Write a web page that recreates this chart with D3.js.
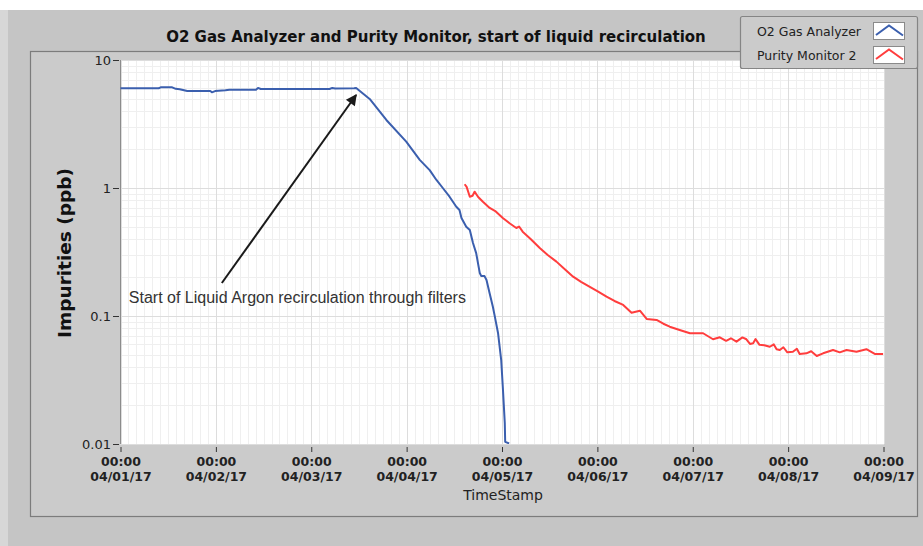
<!DOCTYPE html>
<html>
<head>
<meta charset="utf-8">
<script src="https://cdn.jsdelivr.net/npm/d3@7"></script>
<style>
  body { margin: 0; background: #c5c5c5; }
  svg { display: block; }
</style>
</head>
<body>
<svg id="chart" width="923" height="546"></svg>
<script>
// ---- chart data ----
const chartTitle = "O2 Gas Analyzer and Purity Monitor, start of liquid recirculation";
const yAxisTitle = "Impurities (ppb)";
const xAxisTitle = "TimeStamp";
const seriesNames = ["O2 Gas Analyzer", "Purity Monitor 2"];
const startTime = new Date(2017, 3, 1, 0, 0);
const endTime = new Date(2017, 3, 9, 0, 0);
const yTickValues = [0.01, 0.1, 1, 10];
const yTickLabels = ["0.01", "0.1", "1", "10"];
const xTickTimeFormat = "%H:%M";
const xTickDateFormat = "%m/%d/%y";

// O2 gas analyzer: hours since 04/01/17 00:00, impurity in ppb
const o2Hours = [0, 9.6, 10.1, 13.0, 13.9, 14.9, 16.8, 22.6, 23.0, 23.8, 26.4, 27.4, 34.1, 34.6, 35.3,
  52.6, 53.3, 54.0, 58.8, 59.3, 62.7, 66.9, 71.9, 75.3, 77.8, 79.5, 81.1, 82.8, 84.5, 85.3, 85.8,
  87.0, 87.9, 88.7, 89.5, 90.4, 90.8, 91.6, 92.1, 92.9, 93.7, 94.2, 95.0, 95.8, 96.2, 96.7, 96.8, 97.8];
const o2Ppb = [6.01, 6.01, 6.12, 6.12, 5.95, 5.90, 5.72, 5.72, 5.59, 5.72, 5.80, 5.86, 5.86, 6.05, 5.93,
  5.93, 6.05, 5.98, 6.01, 6.05, 4.96, 3.40, 2.30, 1.66, 1.38, 1.155, 1.00, 0.855, 0.714, 0.673, 0.583,
  0.499, 0.470, 0.372, 0.310, 0.217, 0.205, 0.205, 0.191, 0.150, 0.118, 0.0989, 0.0737, 0.0453, 0.0280, 0.0146, 0.0104, 0.0101];

// Purity monitor 2: hours since 04/01/17 00:00, impurity in ppb
const pm2Hours = [86.6, 87.1, 87.9, 88.6, 89.1, 90.0, 91.2, 92.9, 94.3, 96.2, 97.9, 99.6, 100.3, 101.2,
  103.2, 105.5, 107.5, 109.7, 111.8, 113.9, 115.9, 118.1, 120.2, 122.3, 124.3, 126.5, 128.6, 130.7,
  132.4, 134.9, 136.6, 138.2, 140.7, 143.3, 146.6, 149.1, 150.8, 152.4, 153.6, 155.0, 156.5, 157.5,
  158.4, 159.2, 159.8, 160.8, 162.0, 163.4, 164.4, 165.1, 165.9, 166.8, 167.8, 169.2, 170.2, 170.9,
  172.6, 173.8, 175.2, 176.8, 179.3, 181.0, 182.7, 185.2, 187.7, 189.8, 191.9];
const pm2Ppb = [1.07, 1.02, 0.855, 0.87, 0.936, 0.85, 0.78, 0.698, 0.66, 0.583, 0.53, 0.487, 0.50, 0.456,
  0.40, 0.340, 0.30, 0.266, 0.232, 0.203, 0.185, 0.169, 0.155, 0.1416, 0.131, 0.122, 0.106, 0.110,
  0.0948, 0.0931, 0.087, 0.0825, 0.0778, 0.0733, 0.0733, 0.0658, 0.0682, 0.0640, 0.0670, 0.0630, 0.0680, 0.0658,
  0.0605, 0.0612, 0.0660, 0.0595, 0.0590, 0.0575, 0.0600, 0.0550, 0.0542, 0.0570, 0.0520, 0.0526, 0.0555, 0.0505,
  0.0511, 0.0530, 0.0487, 0.0511, 0.0542, 0.0520, 0.0542, 0.0526, 0.0550, 0.0505, 0.0505];

// Annotation: text anchor and arrow (hours, ppb)
const noteText = "Start of Liquid Argon recirculation through filters";
const noteAt = [2.1, 0.1265];
const arrowFrom = [25.5, 0.181];
const arrowTo = [59.3, 5.33];

const seriesColors = ["#3b5fae", "#ff3d3d"];

// ---- layout ----
const svg = d3.select("#chart");
const W = 923, H = 546;
const plot = { left: 120, top: 60, right: 884, bottom: 444 };

const toTime = h => new Date(startTime.getTime() + h * 3600e3);

const x = d3.scaleTime().domain([startTime, endTime]).range([plot.left + 0.5, plot.right - 0.5]);
const y = d3.scaleLog().domain([0.01, 10]).range([plot.bottom, plot.top]);

// window backdrop
svg.append("rect").attr("width", W).attr("height", H).attr("fill", "#c5c5c5");
svg.append("rect").attr("x", 0).attr("y", 10).attr("width", 8).attr("height", H - 10).attr("fill", "#d7d7d7");
svg.append("rect").attr("width", W).attr("height", 10).attr("fill", "#ffffff");

// graph panel
svg.append("rect")
  .attr("x", 30.5).attr("y", 51.5).attr("width", 887).attr("height", 465)
  .attr("fill", "#cbcbcb").attr("stroke", "#7c7c7c").attr("stroke-width", 1.2);

// title
svg.append("text")
  .attr("x", 436).attr("y", 42)
  .attr("text-anchor", "middle")
  .attr("font-family", "DejaVu Sans, sans-serif")
  .attr("font-weight", "bold")
  .attr("font-size", 15)
  .attr("fill", "#111")
  .text(chartTitle);

// plot background
svg.append("rect")
  .attr("x", plot.left).attr("y", plot.top)
  .attr("width", plot.right - plot.left).attr("height", plot.bottom - plot.top)
  .attr("fill", "#ffffff");

const grid = svg.append("g");

// minor vertical grid every 2 hours
grid.selectAll("line.vminor")
  .data(x.ticks(d3.timeHour.every(2)))
  .join("line")
  .attr("x1", d => Math.round(x(d)) + 0.5).attr("x2", d => Math.round(x(d)) + 0.5)
  .attr("y1", plot.top).attr("y2", plot.bottom)
  .attr("stroke", "#efefef").attr("stroke-width", 1);

// minor horizontal grid (log 2..9)
const logTicks = y.ticks();
const isMajor = d => Math.abs(Math.log10(d) - Math.round(Math.log10(d))) < 1e-9;
grid.selectAll("line.hminor")
  .data(logTicks.filter(d => !isMajor(d)))
  .join("line")
  .attr("x1", plot.left).attr("x2", plot.right)
  .attr("y1", d => Math.round(y(d)) + 0.5).attr("y2", d => Math.round(y(d)) + 0.5)
  .attr("stroke", "#efefef").attr("stroke-width", 1);

// major grid
grid.selectAll("line.vmajor")
  .data(x.ticks(d3.timeDay.every(1)))
  .join("line")
  .attr("x1", d => Math.round(x(d)) + 0.5).attr("x2", d => Math.round(x(d)) + 0.5)
  .attr("y1", plot.top).attr("y2", plot.bottom)
  .attr("stroke", "#dddddd").attr("stroke-width", 1);
grid.selectAll("line.hmajor")
  .data(yTickValues)
  .join("line")
  .attr("x1", plot.left).attr("x2", plot.right)
  .attr("y1", d => Math.round(y(d)) + 0.5).attr("y2", d => Math.round(y(d)) + 0.5)
  .attr("stroke", "#dddddd").attr("stroke-width", 1);

// plot frame (left edge)
svg.append("line")
  .attr("x1", plot.left + 0.5).attr("x2", plot.left + 0.5)
  .attr("y1", plot.top).attr("y2", plot.bottom)
  .attr("stroke", "#8c8c8c");

// series
const line = d3.line().x(d => x(d[0])).y(d => y(d[1]));
const o2Data = o2Hours.map((h, i) => [toTime(h), o2Ppb[i]]);
const pm2Data = pm2Hours.map((h, i) => [toTime(h), pm2Ppb[i]]);

svg.append("clipPath").attr("id", "plotClip")
  .append("rect").attr("x", plot.left).attr("y", plot.top - 2)
  .attr("width", plot.right - plot.left).attr("height", plot.bottom - plot.top + 2);

const seriesG = svg.append("g").attr("clip-path", "url(#plotClip)");
seriesG.append("path").datum(pm2Data)
  .attr("d", line).attr("fill", "none")
  .attr("stroke", seriesColors[1]).attr("stroke-width", 2).attr("stroke-linejoin", "round");
seriesG.append("path").datum(o2Data)
  .attr("d", line).attr("fill", "none")
  .attr("stroke", seriesColors[0]).attr("stroke-width", 2).attr("stroke-linejoin", "round");

// annotation
svg.append("defs").append("marker")
  .attr("id", "arrowHead")
  .attr("viewBox", "0 0 10 10")
  .attr("refX", 9).attr("refY", 5)
  .attr("markerUnits", "userSpaceOnUse")
  .attr("markerWidth", 13).attr("markerHeight", 11)
  .attr("orient", "auto")
  .append("path").attr("d", "M0,0 L10,5 L0,10 Z").attr("fill", "#1a1a1a");

svg.append("line")
  .attr("x1", x(toTime(arrowFrom[0]))).attr("y1", y(arrowFrom[1]))
  .attr("x2", x(toTime(arrowTo[0]))).attr("y2", y(arrowTo[1]))
  .attr("stroke", "#1a1a1a").attr("stroke-width", 2)
  .attr("marker-end", "url(#arrowHead)");

svg.append("text")
  .attr("x", x(toTime(noteAt[0]))).attr("y", y(noteAt[1]))
  .attr("font-family", "Liberation Sans, Arial, sans-serif")
  .attr("font-size", 16)
  .attr("fill", "#333")
  .text(noteText);

// y axis
const yAxis = svg.append("g")
  .attr("transform", `translate(${plot.left - 1},0)`)
  .call(d3.axisLeft(y).tickValues(yTickValues).tickFormat((d, i) => yTickLabels[i]).tickSize(6).tickPadding(2));
yAxis.select(".domain").remove();
yAxis.selectAll(".tick line").attr("stroke", "#333");
yAxis.selectAll(".tick text")
  .attr("font-family", "DejaVu Sans, sans-serif").attr("font-size", 13).attr("fill", "#222");

// x axis
const fmtTime = d3.timeFormat(xTickTimeFormat);
const fmtDate = d3.timeFormat(xTickDateFormat);
const xAxis = svg.append("g")
  .attr("transform", `translate(0,${plot.bottom + 1})`)
  .call(d3.axisBottom(x).ticks(d3.timeDay.every(1)).tickSize(6).tickFormat(""));
xAxis.select(".domain").remove();
xAxis.selectAll(".tick line").attr("stroke", "#333").attr("y1", 2).attr("y2", 7);
xAxis.selectAll(".tick text").remove();
xAxis.selectAll(".tick").append("text")
  .attr("text-anchor", "middle")
  .attr("font-family", "DejaVu Sans, sans-serif").attr("font-weight", "bold").attr("font-size", 12.5)
  .attr("fill", "#222")
  .each(function(d) {
    const t = d3.select(this);
    t.append("tspan").attr("x", 0).attr("y", 21).text(fmtTime(d));
    t.append("tspan").attr("x", 0).attr("y", 36).text(fmtDate(d));
  });

// axis titles
svg.append("text")
  .attr("x", 503).attr("y", 500)
  .attr("text-anchor", "middle")
  .attr("font-family", "DejaVu Sans, sans-serif").attr("font-size", 14).attr("fill", "#222")
  .text(xAxisTitle);

svg.append("text")
  .attr("transform", "translate(71,253) rotate(-90)")
  .attr("text-anchor", "middle")
  .attr("font-family", "DejaVu Sans, sans-serif").attr("font-weight", "bold").attr("font-size", 18.5)
  .attr("fill", "#111")
  .text(yAxisTitle);

// legend
const legend = svg.append("g");
legend.append("rect")
  .attr("x", 740.5).attr("y", 16.5).attr("width", 177).attr("height", 52).attr("rx", 2)
  .attr("fill", "#cbcbcb").attr("stroke", "#858585").attr("stroke-width", 1.2);
const legendRows = seriesNames.map((name, i) => ({ name, color: seriesColors[i], row: i }));
const rowG = legend.selectAll("g.row").data(legendRows).join("g")
  .attr("transform", d => `translate(0,${d.row * 24})`);
rowG.append("text")
  .attr("x", 757).attr("y", 35.5)
  .attr("font-family", "DejaVu Sans, sans-serif").attr("font-size", 12.5).attr("fill", "#222")
  .text(d => d.name);
rowG.append("rect")
  .attr("x", 873.5).attr("y", 22.5).attr("width", 31).attr("height", 17)
  .attr("fill", "#ffffff").attr("stroke", "#8a8a8a");
rowG.append("polyline")
  .attr("points", "876,35 889,25.5 903,35.5")
  .attr("fill", "none").attr("stroke", d => d.color).attr("stroke-width", 2);
</script>
</body>
</html>
